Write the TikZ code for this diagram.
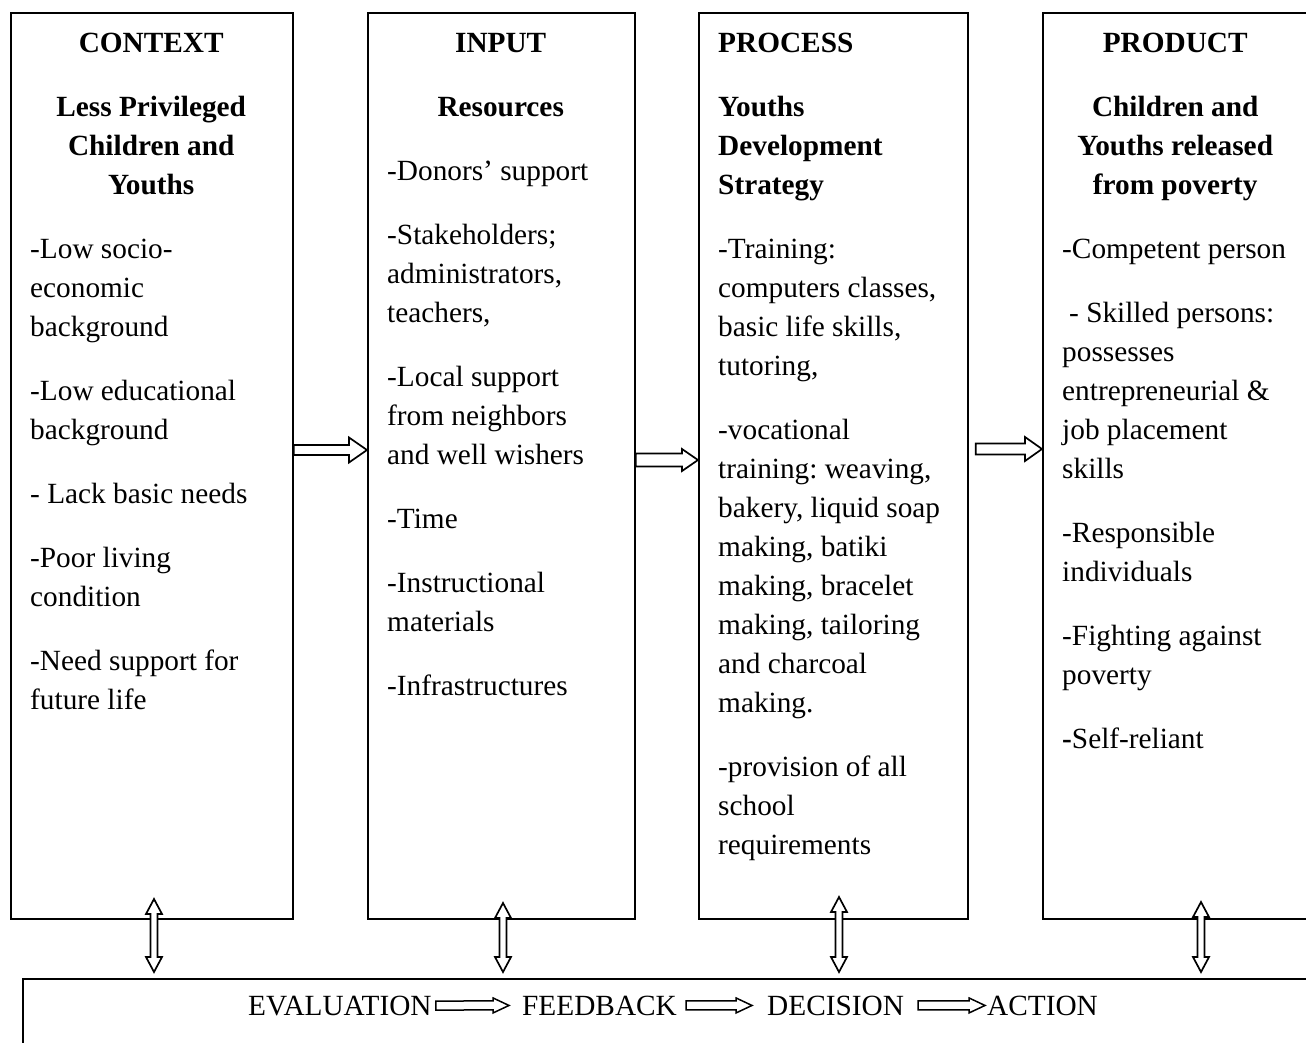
\documentclass[tikz,border=0pt]{standalone}
\usepackage{fontspec}
\setmainfont{Liberation Serif}
\usetikzlibrary{calc}
\frenchspacing
\newcommand\mainsize{\fontsize{29.3}{39}\selectfont}
\newcommand\colbox[2]{\parbox[t]{#1pt}{\mainsize\frenchspacing\setlength\parindent{0pt}\setlength\parskip{25pt}\hbadness=10000 #2}}
\tikzset{
  boxnode/.style={draw, line width=1.8pt, rectangle, inner sep=0pt, anchor=north west},
  blockarrow/.style={draw, fill=white, line width=1.7pt, line join=miter},
  thinarrow/.style={draw, fill=white, line width=1.5pt, line join=miter},
  txt/.style={anchor=base west, inner sep=0pt, font=\mainsize},
}
% horizontal hollow arrow: start, end, shaft half, head half, head length, style
\newcommand\harrow[6]{\draw[#6] ($(#1)+(0,#3)$) -- ($(#2)+(-#5,#3)$) -- ($(#2)+(-#5,#4)$) -- (#2) -- ($(#2)+(-#5,-#4)$) -- ($(#2)+(-#5,-#3)$) -- ($(#1)+(0,-#3)$) -- cycle;}
% vertical double hollow arrow: top, bottom, shaft half, head half, head length
\newcommand\varrow[5]{\draw[blockarrow] (#1) -- ($(#1)+(#4,#5)$) -- ($(#1)+(#3,#5)$) -- ($(#2)+(#3,-#5)$) -- ($(#2)+(#4,-#5)$) -- (#2) -- ($(#2)+(-#4,-#5)$) -- ($(#2)+(-#3,-#5)$) -- ($(#1)+(-#3,#5)$) -- ($(#1)+(-#4,#5)$) -- cycle;}
\begin{document}
\begin{tikzpicture}[x=1pt, y=-1pt]
\useasboundingbox (0,0) rectangle (1306,1042);
\clip (0,0) rectangle (1306,1042);
% boxes
\node[boxnode, minimum width=282pt, minimum height=906pt] (ctx) at (10,12) {};
\node[boxnode, minimum width=267pt, minimum height=906pt] (inp) at (367,12) {};
\node[boxnode, minimum width=269pt, minimum height=906pt] (proc) at (698,12) {};
\node[boxnode, minimum width=268pt, minimum height=906pt] (prod) at (1042,12) {};
\node[boxnode, minimum width=1300pt, minimum height=100pt] (eval) at (22,978) {};
% horizontal arrows
\coordinate (a1s) at (ctx.east |- 0,450);
\coordinate (a1e) at (inp.west |- 0,450);
\coordinate (a2s) at (inp.east |- 0,460);
\coordinate (a2e) at (proc.west |- 0,460);
\coordinate (a3s) at ($(proc.east |- 0,449)+(7,0)$);
\coordinate (a3e) at (prod.west |- 0,449);
\harrow{a1s}{a1e}{5}{12.5}{18}{blockarrow}
\harrow{a2s}{a2e}{6.5}{11}{16}{blockarrow}
\harrow{a3s}{a3e}{5.5}{12}{17}{blockarrow}
% vertical double arrows
\coordinate (v1t) at (154,899); \coordinate (v1b) at (154,972);
\coordinate (v2t) at (503,903); \coordinate (v2b) at (503,972);
\coordinate (v3t) at (839,897); \coordinate (v3b) at (839,972);
\coordinate (v4t) at (1201,902); \coordinate (v4b) at (1201,972);
\varrow{v1t}{v1b}{3.5}{8}{15}
\varrow{v2t}{v2b}{3.5}{8}{15}
\varrow{v3t}{v3b}{3.5}{8}{15}
\varrow{v4t}{v4b}{3.5}{8}{15}
% column texts
\node[txt] (ctxt) at (30,52) {\colbox{242}{%
{\centering\bfseries CONTEXT\par Less Privileged\\Children and\\Youths\par}
\raggedright
-Low socio-\\economic\\background\par
-Low educational\\background\par
- Lack basic needs\par
-Poor living\\condition\par
-Need support for\\future life\par}};
\node[txt] (inpt) at (387,52) {\colbox{227}{%
{\centering\bfseries INPUT\par Resources\par}
\raggedright
-Donors’ support\par
-Stakeholders;\\administrators,\\teachers,\par
-Local support\\from neighbors\\and well wishers\par
-Time\par
-Instructional\\materials\par
-Infrastructures\par}};
\node[txt] (proct) at (718,52) {\colbox{232}{%
\raggedright
{\bfseries PROCESS\par Youths\\Development\\Strategy\par}
-Training:\\computers classes,\\basic life skills,\\tutoring,\par
-vocational\\training: weaving,\\bakery, liquid soap\\making, batiki\\making, bracelet\\making, tailoring\\and charcoal\\making.\par
-provision of all\\school\\requirements\par}};
\node[txt] (prodt) at (1062,52) {\colbox{226}{%
{\centering\bfseries PRODUCT\par Children and\\Youths released\\from poverty\par}
\raggedright
-Competent person\par
\hspace*{7pt}- Skilled persons:\\possesses\\entrepreneurial \&\\job placement\\skills\par
-Responsible\\individuals\par
-Fighting against\\poverty\par
\textbf{-}Self-reliant\par}};
% bottom line
\node[txt] (w1) at (248,1015) {EVALUATION};
\node[txt] (w2) at (522,1015) {FEEDBACK};
\node[txt] (w3) at (767,1015) {DECISION};
\node[txt] (w4) at (987,1015) {ACTION};
\coordinate (b1s) at ($(w1.east)+(4,0)$);  \coordinate (b1e) at ($(w2.west)+(-13,0)$);
\coordinate (b2s) at ($(w2.east)+(9,0)$);  \coordinate (b2e) at ($(w3.west)+(-15,0)$);
\coordinate (b3s) at ($(w3.east)+(14,0)$); \coordinate (b3e) at ($(w4.west)+(-2,0)$);
\harrow{b1s}{b1e}{4.5}{7.5}{16}{thinarrow}
\harrow{b2s}{b2e}{4.5}{7.5}{16}{thinarrow}
\harrow{b3s}{b3e}{4.5}{7.5}{16}{thinarrow}
\end{tikzpicture}
\end{document}
